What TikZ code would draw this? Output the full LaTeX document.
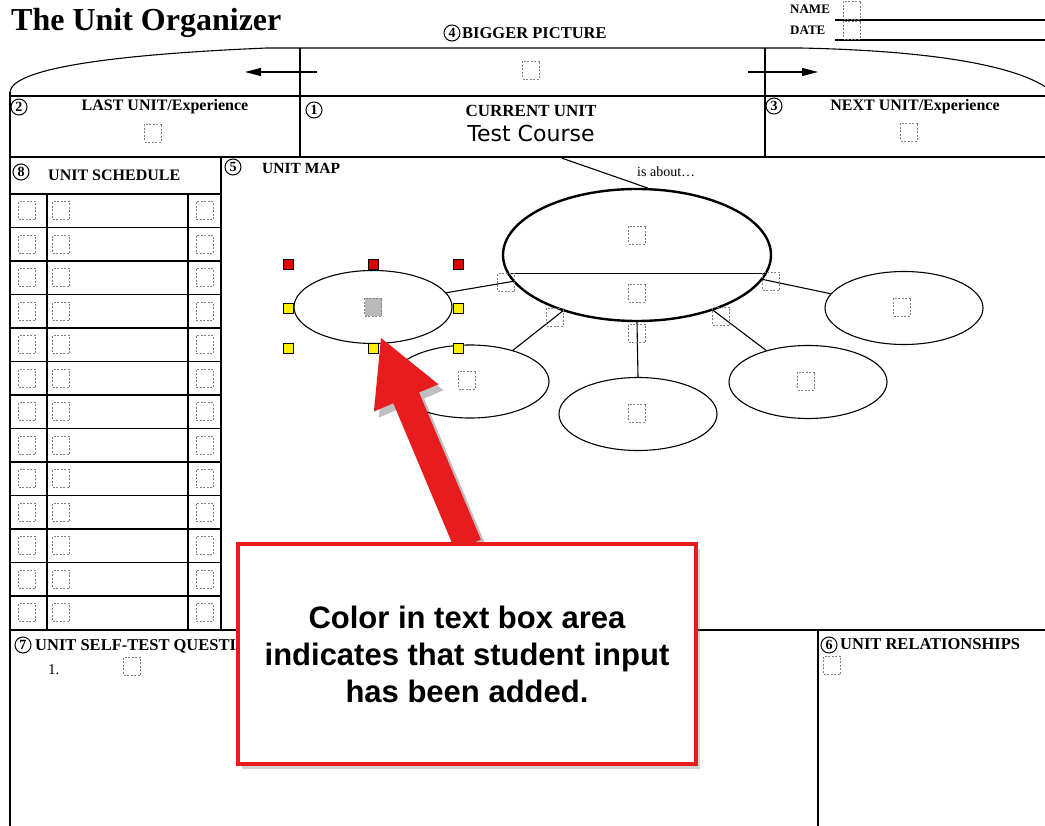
\documentclass[tikz,border=0pt]{standalone}
\usepackage{fontspec}
\setmainfont{Liberation Serif}
\newfontfamily\calloutfont{Liberation Sans}
\newfontfamily\handfont{DejaVu Sans}
\usetikzlibrary{shapes.geometric,shadows,arrows.meta}

\definecolor{alertred}{RGB}{232,28,30}
\definecolor{handleyellow}{RGB}{255,240,0}
\definecolor{handlered}{RGB}{222,0,0}

\newcommand{\fsz}[1]{\fontsize{#1}{#1}\selectfont}

\tikzset{
  frame/.style={line width=1.1pt},
  thickframe/.style={line width=2.4pt},
  dbox/.style={draw=gray, dash pattern=on 2pt off 1.5pt, line width=0.8pt,
      minimum width=17pt, minimum height=18pt, inner sep=0pt},
  numring/.style={circle, draw, line width=1pt, inner sep=0pt,
      minimum size=16pt, font=\bfseries\fsz{14}},
  head/.style={font=\bfseries\fsz{16}, inner sep=0pt},
  mapoval/.style={ellipse, draw, line width=1.1pt, inner sep=0pt,
      minimum width=158pt, minimum height=73pt},
  handle/.style={draw, line width=0.7pt, minimum size=10pt, inner sep=0pt},
  bigarrow/.style={-{Triangle[length=16pt,width=8pt]}, line width=1.1pt}
}

\begin{document}
\begin{tikzpicture}[x=1pt,y=-1pt]
  \useasboundingbox (0,0) rectangle (1045,826);
  \clip (0,0) rectangle (1045,826);

  % heading
  \node[anchor=base west, inner sep=0pt, font=\bfseries\fsz{32}] (title) at (11,31) {The Unit Organizer};
  \node[head, font=\bfseries\fsz{13}, anchor=base west] (namelbl) at (790,14) {NAME};
  \node[head, font=\bfseries\fsz{13}, anchor=base west] (datelbl) at (790,35) {DATE};
  \draw[frame] (835,20) -- (1045,20);
  \draw[frame] (835,40) -- (1045,40);
  \node[dbox] (namebox) at (852,10) {};
  \node[dbox] (datebox) at (852,30) {};

  % bigger picture
  \node[numring] (n4) at (452,33) {4};
  \node[head, font=\bfseries\fsz{16.5}, anchor=base west] (biglbl) at (462,39) {BIGGER PICTURE};
  \node[dbox] (bigbox) at (531,70) {};
  \draw[frame] (10,92) .. controls (12,70) and (100,55) .. (267,48) -- (800,48)
    .. controls (900,50) and (1010,60) .. (1050,90);
  \draw[frame] (300,48) -- (300,96);
  \draw[frame] (765,48) -- (765,96);
  \coordinate (bpl0) at (317,72);
  \coordinate (bpl1) at (245,72);
  \coordinate (bpr0) at (748,72);
  \coordinate (bpr1) at (818,72);
  \draw[bigarrow] (bpl0) -- (bpl1);
  \draw[bigarrow] (bpr0) -- (bpr1);
  \draw[frame] (10,96) -- (1045,96);

  % last, current, next unit
  \node[numring] (n2) at (19,107) {2};
  \node[head, anchor=base] (lastlbl) at (165,111) {LAST UNIT/Experience};
  \node[dbox] (lastbox) at (153,133) {};
  \node[draw, thickframe, minimum width=465pt, minimum height=61pt, inner sep=0pt] (cur) at (532.5,126.5) {};
  \node[numring] (n1) at (314,110) {1};
  \node[head, font=\bfseries\fsz{17}, anchor=base] (curlbl) at (531,117) {CURRENT UNIT};
  \node[anchor=base, inner sep=0pt, font=\handfont\fsz{22}] (course) at (531,142) {Test Course};
  \node[numring] (n3) at (774,106) {3};
  \node[head, anchor=base] (nextlbl) at (915,111) {NEXT UNIT/Experience};
  \node[dbox] (nextbox) at (909,132) {};
  \draw[frame] (10,157) -- (1045,157);

  % unit schedule
  \node[numring] (n8) at (21,172) {8};
  \node[head, anchor=base west] (schedlbl) at (48,181) {UNIT SCHEDULE};
  \def\rowh {33.5}
  \draw[frame] (10,194) -- (221,194);
  \foreach \r in {1,...,13} {
      \draw[frame] (10,{194+\rowh*\r}) -- (221,{194+\rowh*\r});
      \node[dbox] (sa\r) at (27,{194+\rowh*(\r-0.5)}) {};
      \node[dbox] (sb\r) at (61,{194+\rowh*(\r-0.5)}) {};
      \node[dbox] (sc\r) at (204.5,{194+\rowh*(\r-0.5)}) {};
    }
  \draw[frame] (47,194) -- (47,630);
  \draw[frame] (188,194) -- (188,630);
  \draw[frame] (221,157) -- (221,630);

  % unit map
  \node[numring] (n5) at (233,167) {5};
  \node[head, font=\bfseries\fsz{15.5}, anchor=base west] (maplbl) at (262,174) {UNIT MAP};
  \node[mapoval, line width=2.4pt, minimum width=268pt, minimum height=132pt] (core) at (637,255) {};
  \draw[frame] (core.188) -- (core.-8);
  \node[dbox] (coretop) at (637,235) {};
  \node[dbox] (corebot) at (637,293) {};
  \draw[frame] (cur.-47) -- (core.81);
  \node[anchor=base west, inner sep=0pt, font=\fsz{14}] (about) at (637,177) {is about\ldots};

  \node[mapoval] (lmap) at (373,307) {};
  \node[mapoval] (llow) at (470,381.5) {};
  \node[mapoval] (blow) at (638,414) {};
  \node[mapoval] (rlow) at (808,382) {};
  \node[mapoval] (rmap) at (904,308) {};
  \node[dbox, fill=gray!55] (lbox) at (373,307) {};
  \node[dbox] (llbox) at (467,380) {};
  \node[dbox] (blbox) at (637,413) {};
  \node[dbox] (rlbox) at (806,381) {};
  \node[dbox] (rmbox) at (902,307) {};

  \draw[frame] (core.192) -- (lmap.11) node[dbox, pos=0.1] (k1) {};
  \draw[frame] (core.217) -- (llow.36) node[dbox, pos=0.15] (k2) {};
  \draw[frame] (core.270) -- (blow.90) node[dbox, pos=0.2] (k3) {};
  \draw[frame] (core.324) -- (rlow.143) node[dbox, pos=0.15] (k4) {};
  \draw[frame] (core.349) -- (rmap.169) node[dbox, pos=0.12] (k5) {};

  % selection handles
  \foreach \hx/\hn in {288/a,373/b,458/c}
    \node[handle, fill=handlered] (hr\hn) at (\hx,264) {};
  \node[handle, fill=handleyellow] (hy1) at (288,308) {};
  \node[handle, fill=handleyellow] (hy2) at (458,308) {};
  \foreach \hx/\hn in {288/a,373/b,458/c}
    \node[handle, fill=handleyellow] (hb\hn) at (\hx,348) {};

  % bottom panels
  \draw[frame] (10,630) -- (1045,630);
  \draw[frame] (818,630) -- (818,826);
  \draw[frame] (10,92) -- (10,826);
  \node[numring] (n7) at (23,645) {7};
  \node[head, font=\bfseries\fsz{16.5}, anchor=base west] (testlbl) at (35,650) {UNIT SELF-TEST QUESTIONS};
  \node[anchor=base west, inner sep=0pt, font=\fsz{15}] (q1) at (48,674) {1.};
  \node[dbox] (q1box) at (132,666) {};
  \node[numring] (n6) at (829,645) {6};
  \node[head, font=\bfseries\fsz{16.5}, anchor=base west] (rellbl) at (840,649) {UNIT RELATIONSHIPS};
  \node[dbox] (relbox) at (832,665) {};

  % callout
  \fill[black, opacity=0.25, shift={(5,6)}] (381,338) -- (438.5,384.3) -- (419.1,392.5)
    -- (480.9,539.6) -- (455.1,550.4) -- (393.3,403.3) -- (373.9,411.5) -- cycle;
  \fill[alertred] (381,338) -- (438.5,384.3) -- (419.1,392.5)
    -- (480.9,539.6) -- (455.1,550.4) -- (393.3,403.3) -- (373.9,411.5) -- cycle;
  \node[draw=alertred, line width=4pt, fill=white, minimum width=458pt, minimum height=220pt,
    drop shadow={shadow xshift=4pt, shadow yshift=-5pt, opacity=0.35},
    align=center, font=\calloutfont\bfseries\fontsize{31}{37}\selectfont] (note) at (467,654)
    {Color in text box area\\indicates that student input\\has been added.};
\end{tikzpicture}
\end{document}
